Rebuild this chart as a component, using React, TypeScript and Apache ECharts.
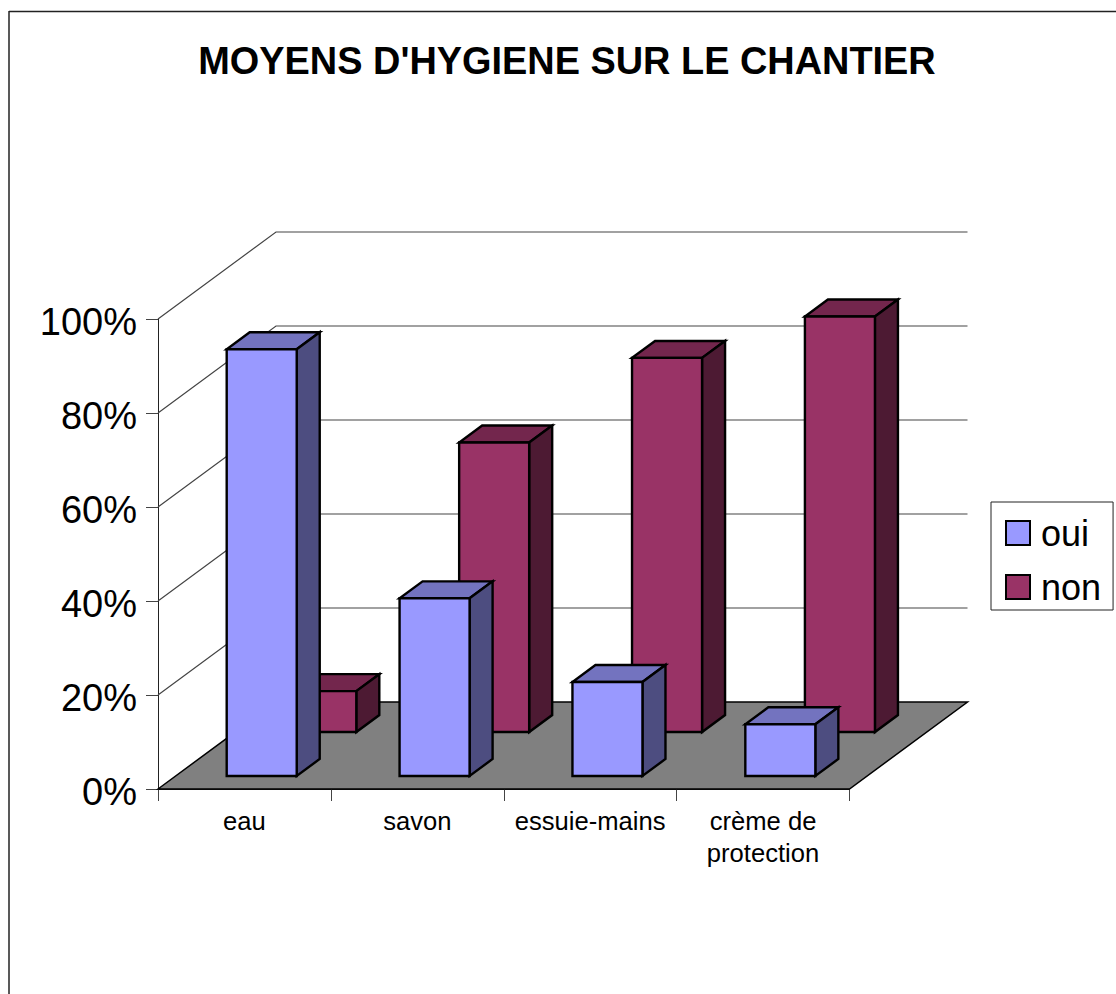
import React, { useEffect, useRef } from "react";
import * as echarts from "echarts";

const titleText = "MOYENS D'HYGIENE SUR LE CHANTIER";
const categories = ["eau", "savon", "essuie-mains", "crème de\nprotection"];
const oui = [90.8, 37.8, 20, 11];
const non = [8.7, 61.6, 79.6, 88.4];
const yTicks = [0, 20, 40, 60, 80, 100];

const FONT = "Liberation Sans, Arial, sans-serif";
const DEPTH_X = 118;
const DEPTH_Y = 87;
const BAR_DEPTH = 0.195;
const GAP = 0.295;
const BAR_W = 0.405;

function barRenderer(depth: number, front: string, top: string, side: string) {
  return (_p: any, api: any) => {
    const cat = api.value(0);
    const [cx, y0] = api.coord([cat, 0]);
    const [, y1] = api.coord([cat, api.value(1)]);
    const band = api.size([1, 0])[0];
    const l = cx - band / 2 + band * GAP + depth * DEPTH_X;
    const r = l + band * BAR_W;
    const b = y0 - depth * DEPTH_Y;
    const t = y1 - depth * DEPTH_Y;
    const dx = BAR_DEPTH * DEPTH_X;
    const dy = BAR_DEPTH * DEPTH_Y;
    const line = { stroke: "#000", lineWidth: 2.4, lineJoin: "miter" };
    return {
      type: "group",
      children: [
        { type: "polygon", shape: { points: [[l, t], [r, t], [r + dx, t - dy], [l + dx, t - dy]] }, style: { fill: top, ...line } },
        { type: "polygon", shape: { points: [[r, t], [r + dx, t - dy], [r + dx, b - dy], [r, b]] }, style: { fill: side, ...line } },
        { type: "polygon", shape: { points: [[l, t], [r, t], [r, b], [l, b]] }, style: { fill: front, ...line } },
      ],
    };
  };
}

function wallRenderer(_p: any, api: any) {
  const v = api.value(1);
  const band = api.size([1, 0])[0];
  const [c0, y] = api.coord([0, v]);
  const [c3] = api.coord([categories.length - 1, v]);
  const xl = c0 - band / 2;
  const xr = c3 + band / 2;
  if (v === 0) {
    return {
      type: "polygon",
      shape: { points: [[xl, y], [xl + DEPTH_X, y - DEPTH_Y], [xr + DEPTH_X, y - DEPTH_Y], [xr, y]] },
      style: { fill: "#808080", stroke: "#000", lineWidth: 1.5 },
    };
  }
  return {
    type: "polyline",
    shape: { points: [[xl, y], [xl + DEPTH_X, y - DEPTH_Y], [xr + DEPTH_X, y - DEPTH_Y]] },
    style: { fill: "none", stroke: "#444", lineWidth: 1.2 },
  };
}

export default function App() {
  const ref = useRef<HTMLDivElement>(null);
  useEffect(() => {
    document.body.style.margin = "0";
    const chart = echarts.init(ref.current!, undefined, { renderer: "svg" });
    chart.setOption({
      animation: false,
      backgroundColor: "#fff",
      title: {
        text: titleText,
        left: 562,
        top: 37,
        textAlign: "center",
        textStyle: { fontFamily: FONT, fontSize: 37.9, fontWeight: "bold", color: "#000" },
      },
      graphic: [
        { type: "line", shape: { x1: 9, y1: 11.5, x2: 1116, y2: 11.5 }, style: { stroke: "#222", lineWidth: 1.5 } },
        { type: "line", shape: { x1: 9, y1: 11, x2: 9, y2: 994 }, style: { stroke: "#222", lineWidth: 1.5 } },
      ],
      legend: {
        orient: "vertical",
        left: 991,
        top: 502,
        data: ["oui", "non"],
        icon: "rect",
        itemWidth: 24,
        itemHeight: 24,
        itemGap: 18,
        padding: [13, 12, 5, 14],
        backgroundColor: "#fff",
        borderColor: "#222",
        borderWidth: 1,
        itemStyle: { borderColor: "#000", borderWidth: 2 },
        textStyle: { fontFamily: FONT, fontSize: 36, color: "#000", padding: [0, 0, 0, 6] },
      },
      grid: { left: 158, top: 319, width: 691.5, height: 470, containLabel: false },
      xAxis: {
        type: "category",
        data: categories,
        axisLine: { show: true, lineStyle: { color: "#222", width: 1 } },
        axisTick: { show: true, length: 12, lineStyle: { color: "#444" } },
        axisLabel: { interval: 0, margin: 16, fontFamily: FONT, fontSize: 25.6, color: "#000", lineHeight: 32 },
      },
      yAxis: {
        type: "value",
        min: 0,
        max: 100,
        interval: 20,
        splitLine: { show: false },
        axisLine: { show: true, lineStyle: { color: "#222", width: 1 } },
        axisTick: { show: true, length: 12, lineStyle: { color: "#444" } },
        axisLabel: {
          margin: 21,
          color: "#000",
          formatter: "{v|{value}%}",
          rich: { v: { fontFamily: FONT, fontSize: 38, color: "#000", padding: [5, 0, 0, 0] } },
        },
      },
      series: [
        {
          name: "mur",
          type: "custom",
          z: 1,
          renderItem: wallRenderer,
          data: yTicks.map((v) => [0, v]),
          encode: { x: 0, y: 1 },
          silent: true,
        },
        {
          name: "oui",
          type: "custom",
          z: 3,
          itemStyle: { color: "#9999ff" },
          renderItem: barRenderer(0.15, "#9999ff", "#7373bf", "#4d4d80"),
          data: oui.map((v, i) => [i, v]),
          encode: { x: 0, y: 1 },
        },
        {
          name: "non",
          type: "custom",
          z: 2,
          itemStyle: { color: "#993366" },
          renderItem: barRenderer(0.655, "#993366", "#73264d", "#4d1a33"),
          data: non.map((v, i) => [i, v]),
          encode: { x: 0, y: 1 },
        },
      ],
    });
    return () => chart.dispose();
  }, []);
  return <div ref={ref} style={{ position: "absolute", left: 0, top: 0, width: 1116, height: 994 }} />;
}
